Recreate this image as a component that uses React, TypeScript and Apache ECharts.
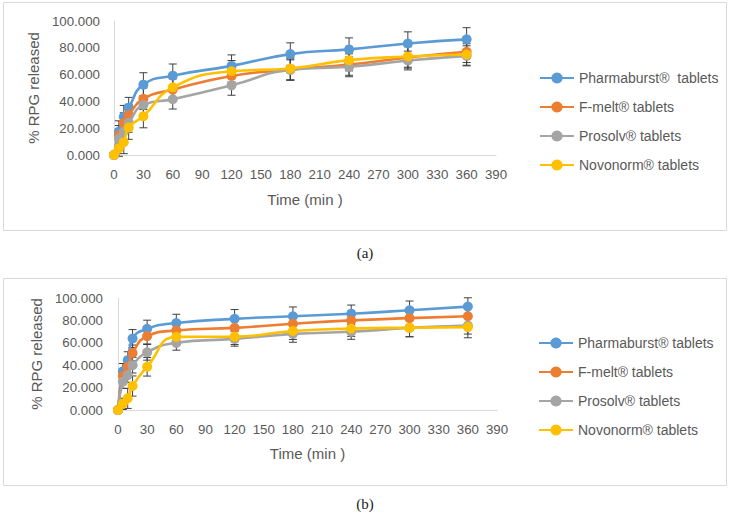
import React, { useEffect, useRef } from "react";
import * as echarts from "echarts";

const times = [0, 5, 10, 15, 30, 60, 120, 180, 240, 300, 360];

const namesA = ["Pharmaburst®  tablets", "F-melt® tablets", "Prosolv® tablets", "Novonorm® tablets"];
const namesB = ["Pharmaburst® tablets", "F-melt® tablets", "Prosolv® tablets", "Novonorm® tablets"];

// Panel (a)
const pharmaA = [0, 17.5, 28.5, 35.3, 52.5, 59.2, 66.5, 75.3, 78.8, 83.2, 86.3];
const fmeltA = [0, 15.0, 24.0, 29.8, 42.0, 48.8, 59.0, 63.8, 67.5, 72.8, 77.0];
const prosolvA = [0, 12.4, 17.5, 24.0, 37.3, 41.6, 52.0, 63.5, 65.8, 70.5, 74.0];
const novoA = [0, 5.0, 9.5, 20.5, 29.0, 50.5, 62.5, 64.5, 70.8, 73.5, 75.0];
const pharmaAsd = [0, 8.0, 8.5, 7.7, 8.9, 8.7, 8.2, 8.4, 8.6, 8.7, 8.7];
const fmeltAsd = [0, 7.0, 7.5, 8.0, 8.0, 8.0, 8.0, 8.0, 8.0, 8.0, 8.0];
const prosolvAsd = [0, 7.0, 7.0, 7.0, 7.0, 7.3, 7.4, 7.5, 7.4, 7.0, 7.5];
const novoAsd = [0, 6.0, 8.5, 8.8, 8.7, 8.0, 8.0, 8.5, 8.0, 8.0, 8.0];

// Panel (b)
const pharmaB = [0, 34.5, 44.5, 63.8, 72.5, 77.7, 81.4, 83.7, 86.0, 89.0, 92.3];
const fmeltB = [0, 30.5, 38.6, 51.0, 66.0, 71.0, 73.3, 77.0, 80.0, 82.0, 83.7];
const prosolvB = [0, 25.2, 31.2, 40.0, 51.5, 60.0, 63.5, 68.0, 69.8, 73.3, 75.3];
const novoB = [0, 5.5, 10.4, 21.4, 38.6, 65.3, 65.5, 70.5, 72.7, 73.5, 74.0];
const pharmaBsd = [0, 7.0, 7.5, 8.0, 7.7, 7.8, 8.3, 8.3, 7.7, 8.3, 7.9];
const fmeltBsd = [0, 6.0, 7.0, 7.0, 7.0, 7.0, 7.0, 7.0, 7.0, 7.0, 7.0];
const prosolvBsd = [0, 6.0, 6.5, 7.0, 7.0, 6.6, 6.5, 7.5, 6.7, 8.0, 7.5];
const novoBsd = [0, 5.0, 9.0, 9.0, 8.3, 7.0, 7.0, 7.5, 7.0, 8.0, 9.5];

const yTicks = [0, 20, 40, 60, 80, 100];
const xTicks = [0, 30, 60, 90, 120, 150, 180, 210, 240, 270, 300, 330, 360, 390];

const colors = ["#5B9BD5", "#ED7D31", "#A5A5A5", "#FFC000"];
const FONT = "Liberation Sans, Arial, sans-serif";
const TXT = "#595959";
const AXIS = "#D9D9D9";
const ERR = "#404040";

function errSeries(vals: number[], sds: number[], axis: number) {
  const data = times
    .map((t, i) => [t, vals[i] - sds[i], vals[i] + sds[i], sds[i]])
    .filter((d) => d[3] > 0);
  return {
    type: "custom",
    xAxisIndex: axis,
    yAxisIndex: axis,
    silent: true,
    z: 1,
    encode: { x: 0, y: [1, 2] },
    data,
    renderItem: (params: any, api: any) => {
      const x = api.value(0);
      const top = api.coord([x, api.value(2)]);
      const bot = api.coord([x, api.value(1)]);
      const hw = 4;
      const st = { stroke: ERR, lineWidth: 1 };
      return {
        type: "group",
        children: [
          { type: "line", shape: { x1: top[0], y1: top[1], x2: bot[0], y2: bot[1] }, style: st },
          { type: "line", shape: { x1: top[0] - hw, y1: top[1], x2: top[0] + hw, y2: top[1] }, style: st },
          { type: "line", shape: { x1: bot[0] - hw, y1: bot[1], x2: bot[0] + hw, y2: bot[1] }, style: st },
        ],
      };
    },
  };
}

function lineSeries(name: string, vals: number[], axis: number, ci: number) {
  return {
    type: "line",
    name,
    xAxisIndex: axis,
    yAxisIndex: axis,
    smooth: 0.5,
    z: 2 + ci,
    data: times.map((t, i) => [t, vals[i]]),
    symbol: "circle",
    symbolSize: 10,
    lineStyle: { color: colors[ci], width: 2.6 },
    itemStyle: { color: colors[ci] },
  };
}

function axesFor(grid: number, nameGapX: number, yLabelMargin: number) {
  const x = {
    type: "value",
    gridIndex: grid,
    min: xTicks[0],
    max: xTicks[xTicks.length - 1],
    interval: 30,
    name: "Time (min )",
    nameLocation: "middle",
    nameGap: nameGapX,
    nameTextStyle: { color: TXT, fontSize: 15, fontFamily: FONT },
    axisLine: { show: true, lineStyle: { color: AXIS, width: 1 } },
    axisTick: { show: false },
    splitLine: { show: false },
    axisLabel: { color: TXT, fontSize: 13.3, fontFamily: FONT, margin: 13 },
  };
  const y = {
    type: "value",
    gridIndex: grid,
    min: yTicks[0],
    max: yTicks[yTicks.length - 1],
    interval: 20,
    name: "% RPG released",
    nameLocation: "middle",
    nameGap: 71,
    nameTextStyle: { color: TXT, fontSize: 15, fontFamily: FONT },
    axisLine: { show: true, lineStyle: { color: AXIS, width: 1 } },
    axisTick: { show: false },
    splitLine: { show: false },
    axisLabel: {
      color: TXT,
      fontSize: 13.3,
      fontFamily: FONT,
      margin: yLabelMargin,
      formatter: (v: number) => v.toFixed(3),
    },
  };
  return { x, y };
}

export default function App() {
  const ref = useRef<HTMLDivElement>(null);
  useEffect(() => {
    if (!ref.current) return;
    const chart = echarts.init(ref.current, undefined, { renderer: "svg" });
    const a = axesFor(0, 37, 14);
    const b = axesFor(1, 36, 15);
    const legendBase = {
      orient: "vertical",
      itemWidth: 34,
      itemHeight: 14,
      itemGap: 15,
      selectedMode: false,
      textStyle: { color: TXT, fontSize: 14, fontFamily: FONT },
    };
    chart.setOption({
      animation: false,
      backgroundColor: "#ffffff",
      grid: [
        { left: 114, top: 21, width: 382, height: 134 },
        { left: 118, top: 298, width: 379, height: 112 },
      ],
      xAxis: [a.x, b.x],
      yAxis: [a.y, b.y],
      legend: [
        { ...legendBase, left: 534, top: 66, data: namesA },
        { ...legendBase, left: 533, top: 331, data: namesB },
      ],
      graphic: [
        { type: "rect", shape: { x: 3.5, y: 2.5, width: 723, height: 228 }, style: { fill: "none", stroke: "#D9D9D9", lineWidth: 1 }, z: -1 },
        { type: "rect", shape: { x: 3.5, y: 278.5, width: 723, height: 207 }, style: { fill: "none", stroke: "#D9D9D9", lineWidth: 1 }, z: -1 },
        { type: "text", x: 365, y: 253, style: { text: "(a)", fill: "#222", fontSize: 15, fontFamily: "Liberation Serif, serif", textAlign: "center", textVerticalAlign: "middle" } },
        { type: "text", x: 365, y: 504, style: { text: "(b)", fill: "#222", fontSize: 15, fontFamily: "Liberation Serif, serif", textAlign: "center", textVerticalAlign: "middle" } },
      ],
      series: [
        errSeries(pharmaA, pharmaAsd, 0),
        errSeries(fmeltA, fmeltAsd, 0),
        errSeries(prosolvA, prosolvAsd, 0),
        errSeries(novoA, novoAsd, 0),
        lineSeries(namesA[0], pharmaA, 0, 0),
        lineSeries(namesA[1], fmeltA, 0, 1),
        lineSeries(namesA[2], prosolvA, 0, 2),
        lineSeries(namesA[3], novoA, 0, 3),
        errSeries(pharmaB, pharmaBsd, 1),
        errSeries(fmeltB, fmeltBsd, 1),
        errSeries(prosolvB, prosolvBsd, 1),
        errSeries(novoB, novoBsd, 1),
        lineSeries(namesB[0], pharmaB, 1, 0),
        lineSeries(namesB[1], fmeltB, 1, 1),
        lineSeries(namesB[2], prosolvB, 1, 2),
        lineSeries(namesB[3], novoB, 1, 3),
      ],
    });
    return () => chart.dispose();
  }, []);
  return (
    <div
      ref={ref}
      style={{ position: "absolute", left: 0, top: 0, width: 730, height: 519, background: "#fff" }}
    />
  );
}
